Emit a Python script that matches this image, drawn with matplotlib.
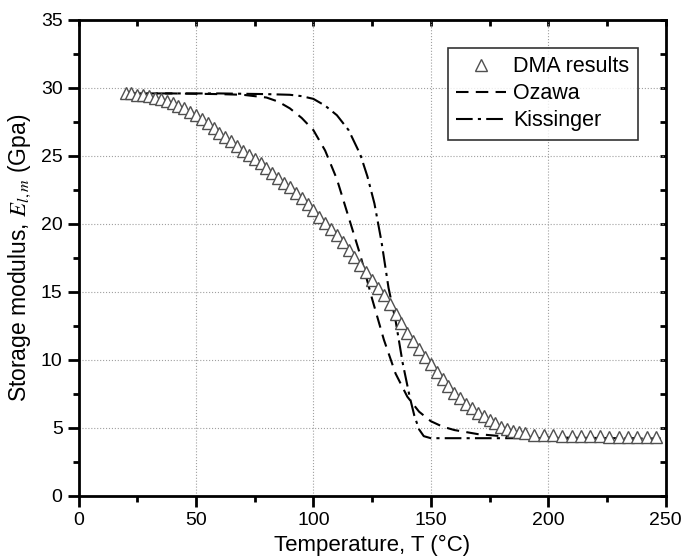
import matplotlib.pyplot as plt
from matplotlib.ticker import MultipleLocator

plt.rcParams['font.family'] = ['Liberation Sans', 'DejaVu Sans']
plt.rcParams['mathtext.fontset'] = 'stix'

# DMA measurements (temperature in C, storage modulus in GPa)
dma_T = [20, 22.5, 25, 27.5, 30, 32.5, 35, 37.5, 40, 42.5, 45, 47.5, 50, 52.5,
         55, 57.5, 60, 62.5, 65, 67.5, 70, 72.5, 75, 77.5, 80, 82.5, 85, 87.5,
         90, 92.5, 95, 97.5, 100, 102.5, 105, 107.5, 110, 112.5, 115, 117.5,
         120, 122.5, 125, 127.5, 130, 132.5, 135, 137.5, 140, 142.5, 145, 147.5,
         150, 152.5, 155, 157.5, 160, 162.5, 165, 167.5, 170, 172.5, 175, 177.5,
         180, 182.5, 185, 187.5, 190, 194, 198, 202, 206, 210, 214, 218, 222,
         226, 230, 234, 238, 242, 246]
dma_E = [29.6, 29.6, 29.5, 29.45, 29.4, 29.3, 29.2, 29.05, 28.9, 28.7, 28.5, 28.25,
         28.0, 27.7, 27.4, 27.05, 26.7, 26.4, 26.1, 25.75, 25.4, 25.1, 24.8, 24.45,
         24.1, 23.75, 23.4, 23.05, 22.7, 22.3, 21.9, 21.45, 21.0, 20.55, 20.1, 19.65,
         19.2, 18.65, 18.1, 17.55, 17.0, 16.45, 15.9, 15.3, 14.75, 14.1, 13.4, 12.7,
         12.0, 11.4, 10.8, 10.25, 9.7, 9.15, 8.6, 8.1, 7.6, 7.2, 6.8, 6.45, 6.1,
         5.85, 5.6, 5.35, 5.1, 4.95, 4.8, 4.7, 4.6, 4.5, 4.45, 4.45, 4.4, 4.4, 4.4,
         4.38, 4.38, 4.37, 4.36, 4.36, 4.35, 4.35, 4.35]

# Ozawa model
oz_T = [20, 40, 60, 70, 80, 85, 90, 95, 100, 105, 110, 115, 120, 125, 130, 135,
        140, 145, 150, 155, 160, 170, 180, 200, 248]
oz_E = [29.6, 29.6, 29.55, 29.5, 29.3, 29.0, 28.5, 27.8, 26.9, 25.4, 23.3, 20.5,
        17.7, 14.5, 11.5, 9.0, 7.3, 6.2, 5.5, 5.1, 4.85, 4.55, 4.4, 4.3, 4.22]

# Kissinger model
ki_T = [20, 60, 80, 90, 95, 100, 105, 110, 115, 120, 123, 126, 129, 132, 135,
        138, 141, 143, 145, 147, 150, 200, 248]
ki_E = [29.6, 29.6, 29.55, 29.5, 29.4, 29.2, 28.7, 28.0, 26.9, 25.1, 23.5, 21.5,
        18.7, 15.3, 12.9, 9.8, 7.3, 5.9, 4.9, 4.4, 4.25, 4.25, 4.22]

fig = plt.figure(figsize=(6.81, 5.60), dpi=100)
ax = fig.add_axes([0.1154, 0.1143, 0.8620, 0.8500])

ax.plot(dma_T, dma_E, linestyle='none', marker='^', markersize=9,
        markerfacecolor='white', markeredgecolor='#505050', markeredgewidth=1,
        label='DMA results', zorder=3)
ax.plot(oz_T, oz_E, color='black', linestyle=(0, (6, 3.5)), linewidth=1.5,
        label='Ozawa', zorder=2)
ax.plot(ki_T, ki_E, color='black', linestyle=(0, (8, 2.5, 1.5, 2.5)),
        linewidth=1.5, label='Kissinger', zorder=2)

ax.set_xlim(0, 250)
ax.set_ylim(0, 35)
ax.xaxis.set_major_locator(MultipleLocator(50))
ax.xaxis.set_minor_locator(MultipleLocator(25))
ax.yaxis.set_major_locator(MultipleLocator(5))
ax.yaxis.set_minor_locator(MultipleLocator(2.5))
ax.grid(True, which='major', linestyle=':', color='#a0a0a0', linewidth=0.8)

for s in ax.spines.values():
    s.set_linewidth(2)
ax.tick_params(which='major', direction='out', length=8, width=2, labelsize=14)
ax.tick_params(which='minor', direction='out', length=4, width=2)

# inward ticks on top and right
top = ax.secondary_xaxis('top')
top.xaxis.set_major_locator(MultipleLocator(50))
top.xaxis.set_minor_locator(MultipleLocator(25))
top.tick_params(which='both', direction='in', length=4, width=2, labeltop=False)
right = ax.secondary_yaxis('right')
right.yaxis.set_major_locator(MultipleLocator(5))
right.yaxis.set_minor_locator(MultipleLocator(2.5))
right.tick_params(which='both', direction='in', length=4, width=2, labelright=False)

ax.set_xlabel('Temperature, T (°C)', fontsize=16, labelpad=4)
ax.set_ylabel('Storage modulus, $E_{l,m}$ (Gpa)', fontsize=16.5, labelpad=6)

leg = ax.legend(loc='upper right', fontsize=15.5, frameon=True, fancybox=False,
                edgecolor='black', borderaxespad=1.28, handlelength=2.3,
                labelspacing=0.28, handletextpad=0.35, borderpad=0.4)
leg.get_frame().set_linewidth(1.2)

fig.savefig('out.png', dpi=100)
